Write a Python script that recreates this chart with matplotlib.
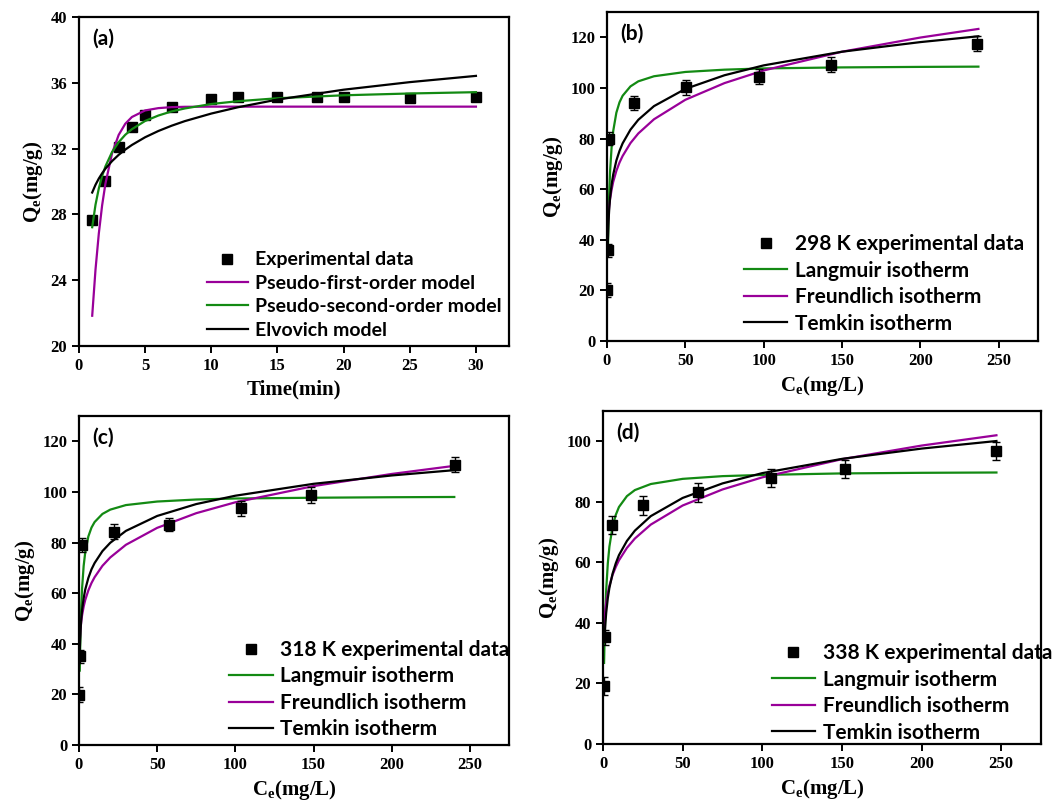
import matplotlib
matplotlib.use("Agg")
import matplotlib.pyplot as plt

plt.rcParams['font.family'] = 'Liberation Serif'
plt.rcParams['font.weight'] = 'bold'
plt.rcParams['axes.labelweight'] = 'bold'
plt.rcParams['mathtext.fontset'] = 'custom'
plt.rcParams['mathtext.rm'] = 'Liberation Serif:bold'
plt.rcParams['mathtext.bf'] = 'Liberation Serif:bold'
plt.rcParams['mathtext.it'] = 'Liberation Serif:bold'

PURPLE = '#990099'
GREEN = '#138a13'

# ---- (a) kinetics ----
t_exp = [1, 2, 3, 4, 5, 7, 10, 12, 15, 18, 20, 25, 30]
q_exp = [27.65, 30.0, 32.1, 33.3, 34.03, 34.5, 35.0, 35.14, 35.14, 35.15, 35.14, 35.06, 35.14]

t_fit = [1, 1.25, 1.5, 1.75, 2, 2.5, 3, 3.5, 4, 5, 6, 7, 8, 10, 12, 15, 20, 25, 30]
q_pfo = [21.84, 24.65, 26.84, 28.55, 29.87, 31.71, 32.83, 33.51, 33.92, 34.32, 34.46, 34.52,
         34.54, 34.55, 34.55, 34.55, 34.55, 34.55, 34.55]
q_pso = [27.22, 28.59, 29.58, 30.33, 30.92, 31.79, 32.39, 32.84, 33.18, 33.68, 34.01, 34.26,
         34.44, 34.71, 34.88, 35.06, 35.24, 35.35, 35.43]
q_elo = [29.33, 29.80, 30.18, 30.50, 30.78, 31.24, 31.62, 31.94, 32.22, 32.69, 33.07, 33.39,
         33.67, 34.13, 34.51, 34.98, 35.58, 36.04, 36.42]

# ---- (b) 298 K ----
ce_b = [0.2, 0.5, 1.0, 17.5, 50.7, 97.3, 142.9, 236.4]
qe_b = [20.0, 35.8, 79.9, 94.1, 100.3, 104.5, 109.2, 117.4]
err_b = [2.8, 2.5, 2.5, 2.8, 3.0, 2.8, 3.0, 3.0]
c_lang_b = [0.6, 1, 1.5, 2, 3, 4, 6, 8, 10, 15, 20, 30, 50, 75, 100, 150, 200, 237]
q_lang_b = [35.4, 48.4, 59.5, 67.1, 76.9, 83.0, 90.2, 94.3, 96.9, 100.6, 102.6, 104.6, 106.3,
            107.2, 107.7, 108.1, 108.3, 108.4]
c_b = [0.5, 1, 1.5, 2, 3, 4, 6, 8, 10, 15, 20, 30, 50, 75, 100, 150, 200, 237]
q_freu_b = [44.6, 50.0, 53.5, 56.1, 59.9, 62.9, 67.2, 70.5, 73.1, 78.2, 82.0, 87.6, 95.3,
            101.9, 106.9, 114.3, 119.9, 123.3]
q_temk_b = [38.0, 47.3, 52.7, 56.6, 62.0, 65.8, 71.3, 75.1, 78.1, 83.5, 87.4, 92.8, 99.6,
            105.0, 108.9, 114.3, 118.1, 120.4]

# ---- (c) 318 K ----
ce_c = [0.3, 0.8, 1.7, 22.2, 57.8, 103.4, 148.3, 240.6]
qe_c = [19.8, 35.0, 79.0, 84.3, 87.0, 93.6, 98.8, 110.7]
err_c = [3.0, 2.5, 2.8, 3.0, 2.5, 3.0, 3.0, 3.0]
c_c = [0.5, 1, 1.5, 2, 3, 4, 6, 8, 10, 15, 20, 30, 50, 75, 100, 150, 200, 240]
q_lang_c = [29.4, 45.3, 55.2, 62.0, 70.8, 76.1, 82.4, 85.9, 88.1, 91.3, 93.0, 94.8, 96.2,
            97.0, 97.4, 97.7, 97.9, 98.0]
q_freu_c = [41.1, 45.9, 49.0, 51.3, 54.7, 57.3, 61.1, 64.0, 66.3, 70.8, 74.1, 79.1, 85.8,
            91.6, 95.9, 102.3, 107.1, 110.3]
q_temk_c = [37.4, 45.4, 50.0, 53.4, 58.0, 61.4, 66.0, 69.4, 71.9, 76.6, 79.9, 84.6, 90.5,
            95.2, 98.5, 103.2, 106.5, 108.6]

# ---- (d) 338 K ----
ce_d = [0.6, 1.0, 5.6, 25.4, 59.6, 105.5, 151.8, 246.7]
qe_d = [19.3, 35.3, 72.3, 78.8, 83.1, 88.0, 90.8, 96.8]
err_d = [3.0, 2.5, 3.0, 3.0, 3.0, 3.0, 3.0, 3.0]
c_lang_d = [0.65, 1, 1.5, 2, 3, 4, 6, 8, 10, 15, 20, 30, 50, 75, 100, 150, 200, 247]
q_lang_d = [26.8, 35.6, 44.6, 51.0, 59.7, 65.2, 71.9, 75.7, 78.3, 81.9, 83.9, 85.9, 87.6,
            88.5, 88.9, 89.4, 89.6, 89.7]
c_freu_d = [0.5, 1, 1.5, 2, 3, 4, 6, 8, 10, 15, 20, 30, 50, 75, 100, 150, 200, 247]
q_freu_d = [37.4, 41.8, 44.6, 46.8, 49.9, 52.3, 55.9, 58.5, 60.7, 64.8, 67.9, 72.5, 78.8,
            84.1, 88.1, 94.1, 98.6, 102.0]
c_temk_d = [1, 1.5, 2, 3, 4, 6, 8, 10, 15, 20, 30, 50, 75, 100, 150, 200, 247]
q_temk_d = [35.3, 40.0, 43.4, 48.2, 51.6, 56.3, 59.7, 62.4, 67.1, 70.5, 75.3, 81.3, 86.1,
            89.5, 94.2, 97.6, 100.1]


def style_axes(ax, xlabel, ylabel, tag):
    for s in ax.spines.values():
        s.set_linewidth(1.6)
    ax.tick_params(direction='out', length=5, width=1.4, top=False, right=False,
                   labelsize=12)
    ax.set_xlabel(xlabel, fontsize=15, labelpad=4)
    ax.set_ylabel(ylabel, fontsize=15, labelpad=4)
    ax.text(0.03, 0.965, tag, transform=ax.transAxes, ha='left', va='top',
            family='Lato', weight='bold', fontsize=15)


def add_legend(ax, handles, labels, anchor, size, spacing):
    ax.legend(handles, labels, loc='upper left', bbox_to_anchor=anchor, frameon=False,
              borderpad=0, handlelength=2.1, labelspacing=spacing, handletextpad=0.35,
              prop=dict(family='Lato', weight='bold', size=size))


fig = plt.figure(figsize=(10.6, 8.09), dpi=100)
ax_a = fig.add_axes([0.0745, 0.5723, 0.4057, 0.4067])
ax_b = fig.add_axes([0.5726, 0.5785, 0.4066, 0.4067])
ax_c = fig.add_axes([0.0745, 0.0791, 0.4057, 0.4067])
ax_d = fig.add_axes([0.5689, 0.0803, 0.4132, 0.4116])

# (a)
ax_a.plot(t_exp, q_exp, 's', color='black', ms=6.5, label='Experimental data')
ax_a.plot(t_fit, q_pfo, color=PURPLE, lw=1.6, label='Pseudo-first-order model')
ax_a.plot(t_fit, q_pso, color=GREEN, lw=1.6, label='Pseudo-second-order model')
ax_a.plot(t_fit, q_elo, color='black', lw=1.6, label='Elvovich model')
ax_a.set_xlim(0, 32.5)
ax_a.set_ylim(20, 40)
ax_a.set_xticks([0, 5, 10, 15, 20, 25, 30])
ax_a.set_yticks([20, 24, 28, 32, 36, 40])
style_axes(ax_a, 'Time(min)', r'$\mathregular{Q_e(mg/g)}$', '(a)')
h, l = ax_a.get_legend_handles_labels()
add_legend(ax_a, h, l, (0.275, 0.317), 14, 0.33)


def iso_panel(ax, ce, qe, err, cl, ql, cf, qf, ct, qt, temp, ylim, yticks, tag, anchor):
    l1, = ax.plot(cl, ql, color=GREEN, lw=1.6)
    l2, = ax.plot(cf, qf, color=PURPLE, lw=1.6)
    l3, = ax.plot(ct, qt, color='black', lw=1.6)
    eb = ax.errorbar(ce, qe, yerr=err, fmt='s', color='black', ms=6.5, elinewidth=1,
                     capsize=3, capthick=1, zorder=5)
    ax.set_xlim(0, 275)
    ax.set_ylim(*ylim)
    ax.set_xticks([0, 50, 100, 150, 200, 250])
    ax.set_yticks(yticks)
    style_axes(ax, r'$\mathregular{C_e(mg/L)}$', r'$\mathregular{Q_e(mg/g)}$', tag)
    add_legend(ax, [eb[0], l1, l2, l3],
               [temp + ' experimental data', 'Langmuir isotherm', 'Freundlich isotherm',
                'Temkin isotherm'], anchor, 15, 0.31)


iso_panel(ax_b, ce_b, qe_b, err_b, c_lang_b, q_lang_b, c_b, q_freu_b, c_b, q_temk_b,
          '298 K', (0, 130), [0, 20, 40, 60, 80, 100, 120], '(b)', (0.293, 0.356))
iso_panel(ax_c, ce_c, qe_c, err_c, c_c, q_lang_c, c_c, q_freu_c, c_c, q_temk_c,
          '318 K', (0, 130), [0, 20, 40, 60, 80, 100, 120], '(c)', (0.325, 0.351))
iso_panel(ax_d, ce_d, qe_d, err_d, c_lang_d, q_lang_d, c_freu_d, q_freu_d, c_temk_d, q_temk_d,
          '338 K', (0, 110), [0, 20, 40, 60, 80, 100], '(d)', (0.361, 0.334))

fig.savefig('out.png', dpi=100)
